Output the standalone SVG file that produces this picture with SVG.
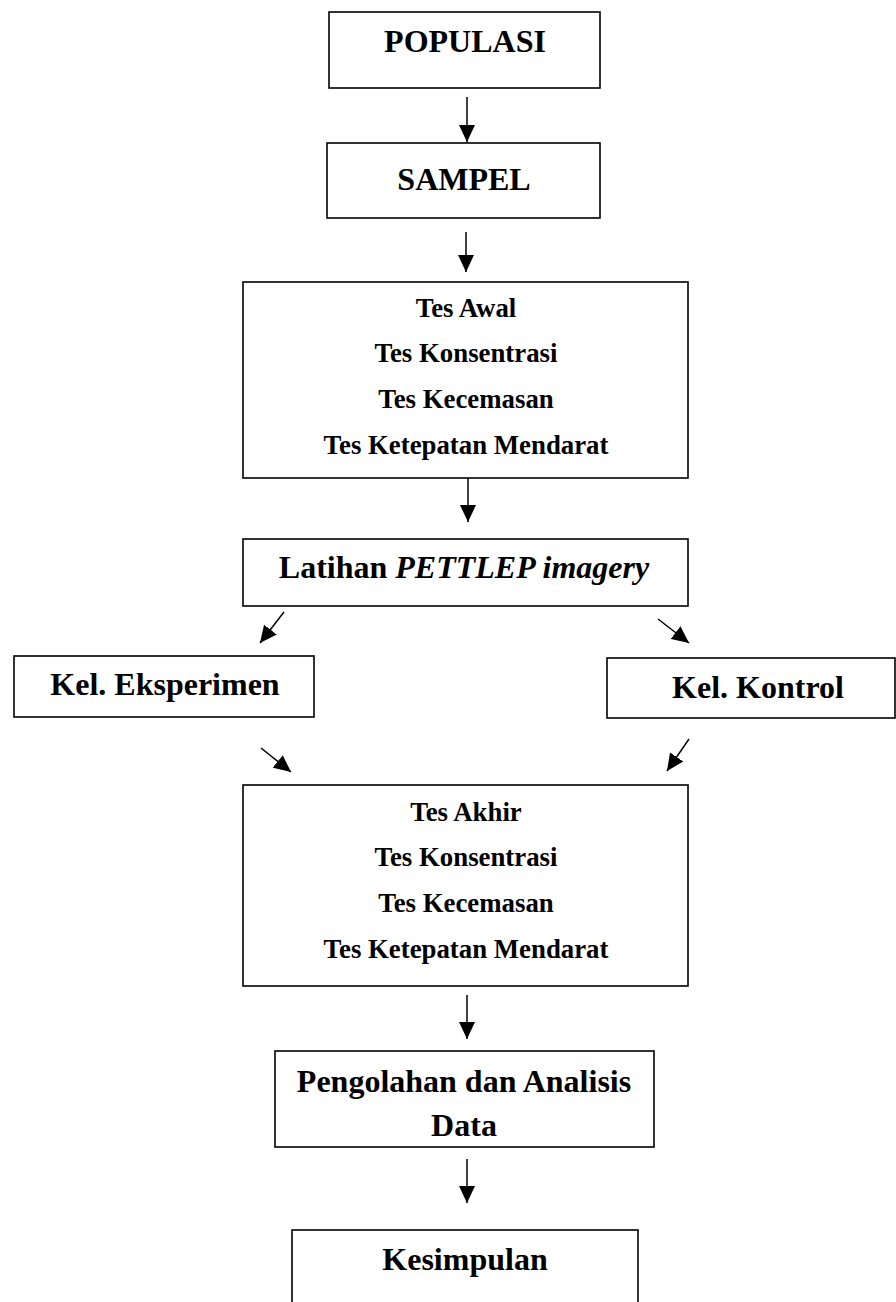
<svg xmlns="http://www.w3.org/2000/svg" width="896" height="1302" viewBox="0 0 896 1302">
<style>
.box{fill:#fff;stroke:#000;stroke-width:1.6}
.t{font-family:"Liberation Serif","Times New Roman",serif;font-weight:bold;fill:#000;text-anchor:middle}
.big{font-size:32px}
.small{font-size:26.8px}
.conn line{stroke:#000;stroke-width:1.5;marker-end:url(#ah)}
</style>
<defs>
<marker id="ah" markerUnits="userSpaceOnUse" markerWidth="17" markerHeight="16" refX="17" refY="8" orient="auto">
<path d="M0,0 L17,8 L0,16 z" fill="#000"/>
</marker>
</defs>
<rect width="896" height="1302" fill="#fff"/>
<g id="populasi"><rect class="box" x="329" y="12" width="271" height="76"/><text class="t big" x="465" y="52">POPULASI</text></g>
<g id="sampel"><rect class="box" x="327" y="143" width="273" height="75"/><text class="t big" x="464" y="190">SAMPEL</text></g>
<g id="tes-awal"><rect class="box" x="243" y="282" width="445" height="196"/>
<text class="t small" x="466" y="317">Tes Awal</text>
<text class="t small" x="466" y="362">Tes Konsentrasi</text>
<text class="t small" x="466" y="408">Tes Kecemasan</text>
<text class="t small" x="466" y="454">Tes Ketepatan Mendarat</text></g>
<g id="latihan"><rect class="box" x="243" y="539" width="445" height="67"/><text class="t big" x="464" y="578">Latihan <tspan font-style="italic">PETTLEP imagery</tspan></text></g>
<g id="kel-eksperimen"><rect class="box" x="14" y="656" width="300" height="61"/><text class="t big" x="165" y="695">Kel. Eksperimen</text></g>
<g id="kel-kontrol"><rect class="box" x="607" y="658" width="288" height="60"/><text class="t big" x="758" y="698">Kel. Kontrol</text></g>
<g id="tes-akhir"><rect class="box" x="243" y="785" width="445" height="201"/>
<text class="t small" x="466" y="821">Tes Akhir</text>
<text class="t small" x="466" y="866">Tes Konsentrasi</text>
<text class="t small" x="466" y="912">Tes Kecemasan</text>
<text class="t small" x="466" y="958">Tes Ketepatan Mendarat</text></g>
<g id="pengolahan"><rect class="box" x="275" y="1051" width="379" height="96"/>
<text class="t big" x="464" y="1092">Pengolahan dan Analisis</text>
<text class="t big" x="464" y="1136">Data</text></g>
<g id="kesimpulan"><rect class="box" x="292" y="1230" width="346" height="80"/><text class="t big" x="465" y="1270">Kesimpulan</text></g>
<g class="conn" id="connectors">
<line x1="467" y1="97" x2="467" y2="142"/>
<line x1="466" y1="232" x2="466" y2="272"/>
<line x1="468" y1="478" x2="468" y2="522"/>
<line x1="284" y1="612" x2="260" y2="643"/>
<line x1="658" y1="619" x2="689" y2="643"/>
<line x1="261" y1="748" x2="291" y2="772"/>
<line x1="689" y1="739" x2="667" y2="771"/>
<line x1="467" y1="995" x2="467" y2="1039"/>
<line x1="467" y1="1159" x2="467" y2="1203"/>
</g>
</svg>
